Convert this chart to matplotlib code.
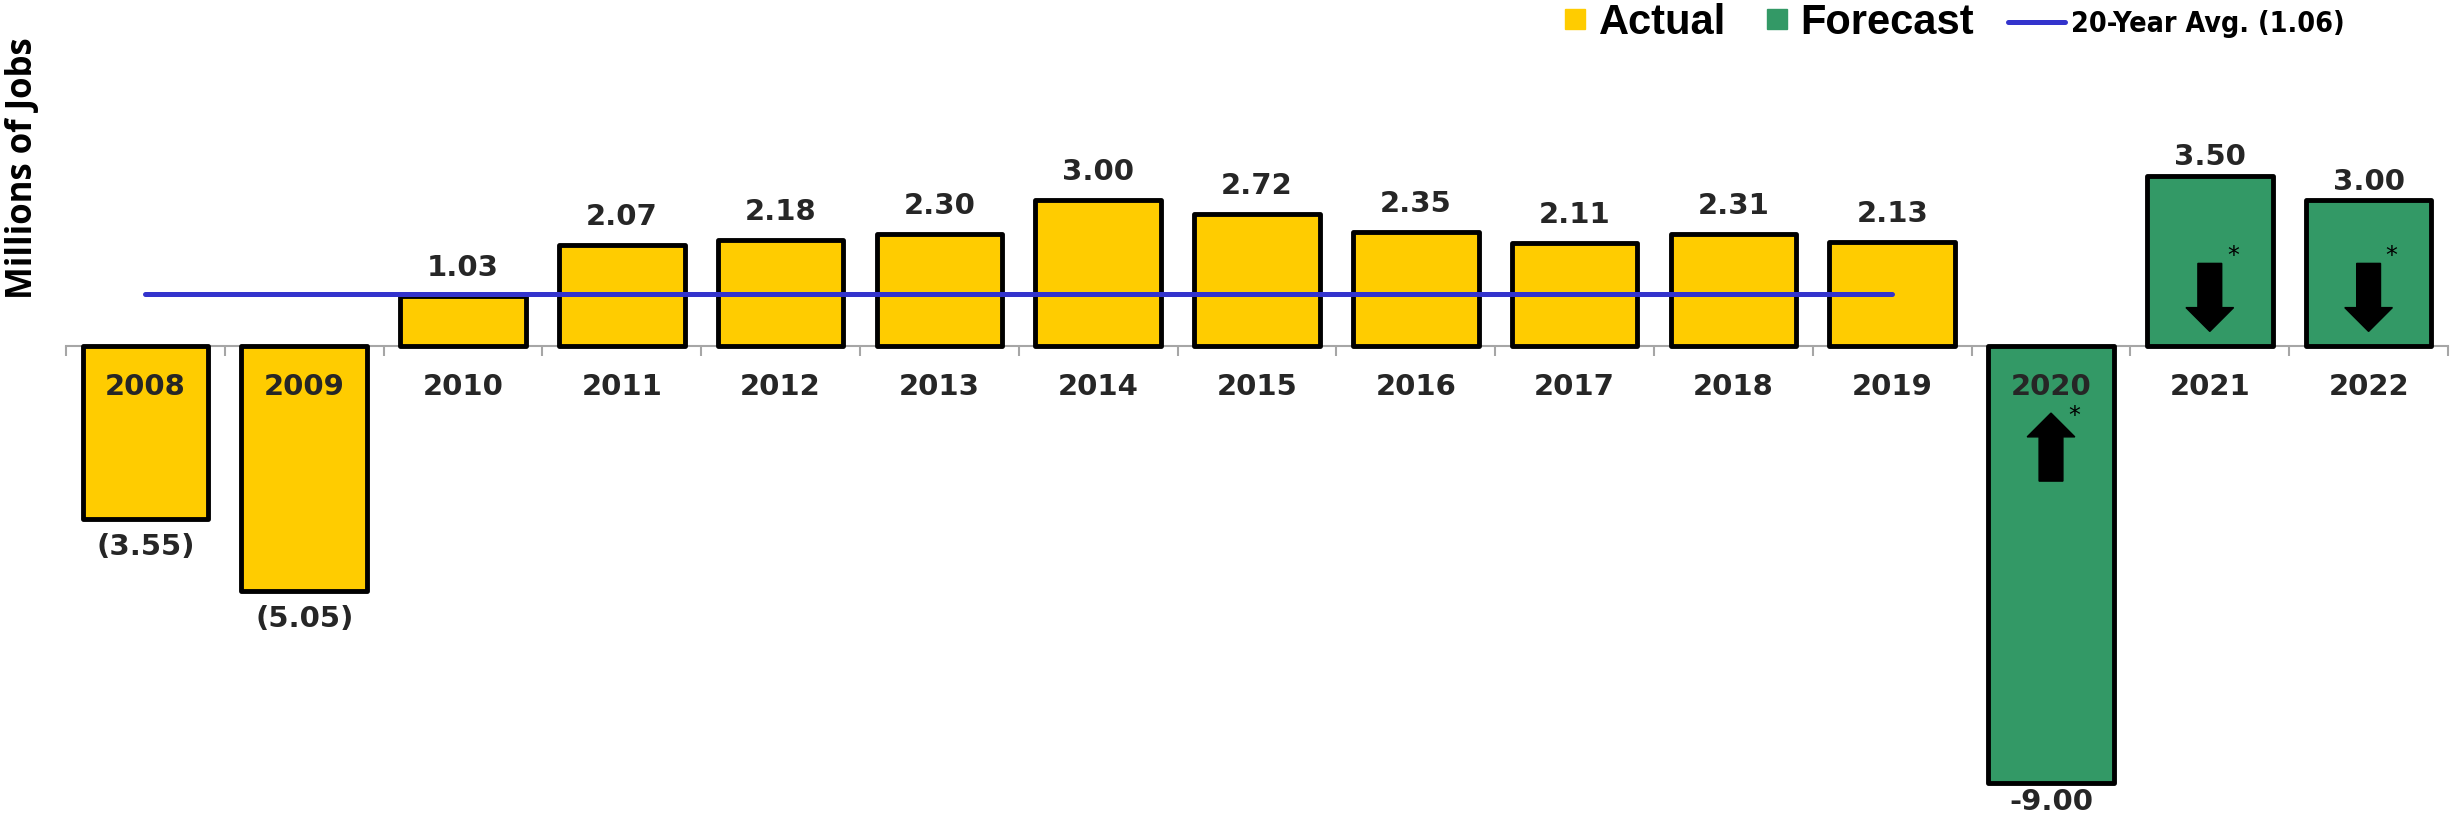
import numpy as np
import matplotlib
matplotlib.use("Agg")
import matplotlib.pyplot as plt
from matplotlib.lines import Line2D
from matplotlib.patches import FancyArrow
from matplotlib.font_manager import FontProperties

# data
years = ["2008", "2009", "2010", "2011", "2012", "2013", "2014", "2015",
         "2016", "2017", "2018", "2019", "2020", "2021", "2022"]
actual_values = [-3.55, -5.05, 1.03, 2.07, 2.18, 2.30, 3.00, 2.72, 2.35, 2.11, 2.31, 2.13]
actual_labels = ["(3.55)", "(5.05)", "1.03", "2.07", "2.18", "2.30", "3.00", "2.72",
                 "2.35", "2.11", "2.31", "2.13"]
forecast_values = [-9.00, 3.50, 3.00]
forecast_labels = ["-9.00", "3.50", "3.00"]
forecast_arrows = ["up", "down", "down"]
avg_value = 1.06
avg_label = "20-Year Avg. (1.06)"
ylabel = "Millions of Jobs"

YELLOW = "#FFCC00"
GREEN = "#339966"
BLUE = "#3333CC"
GRAY_TXT = "#262626"
AXIS_GRAY = "#A6A6A6"

W, H = 2451, 819
fig = plt.figure(figsize=(W / 100, H / 100), dpi=100)
ax = fig.add_axes([0, 0, 1, 1])

# pixel layout: zero line at y=346, 48.6 px per unit; categories 158.8 px wide from x=66
px_unit = 48.6
cat_w = 158.8
ax.set_ylim(-(H - 346) / px_unit, 346 / px_unit)
ax.set_xlim(-0.5 - 66 / cat_w, -0.5 + (W - 66) / cat_w)

x_all = np.arange(len(years))
x_act = x_all[:len(actual_values)]
x_fc = x_all[len(actual_values):]

bars_a = ax.bar(x_act, actual_values, width=0.79, color=YELLOW, edgecolor="black",
                linewidth=3.5, zorder=3)
bars_f = ax.bar(x_fc, forecast_values, width=0.79, color=GREEN, edgecolor="black",
                linewidth=3.5, zorder=3)
for b in list(bars_a) + list(bars_f):
    b.set_joinstyle("round")

# 20-year average line over the actual years
ax.plot([x_act[0], x_act[-1]], [avg_value, avg_value], color=BLUE, lw=3.6,
        solid_capstyle="round", zorder=4)

# axis styling
for s in ["top", "right", "left"]:
    ax.spines[s].set_visible(False)
ax.spines["bottom"].set_position(("data", 0))
ax.spines["bottom"].set_bounds(-0.5, len(years) - 0.5)
ax.spines["bottom"].set_color(AXIS_GRAY)
ax.spines["bottom"].set_linewidth(1.5)
ax.spines["bottom"].set_zorder(2)
ax.set_xticks(np.arange(-0.5, len(years), 1))
ax.set_xticklabels([])
ax.tick_params(axis="x", direction="out", length=7.5, width=1.5, color=AXIS_GRAY)
ax.set_yticks([])
ax.patch.set_visible(False)

lab_font = dict(fontsize=21, fontweight="bold", color=GRAY_TXT, family="DejaVu Sans")

# year labels just under the zero line
for xi, yr in zip(x_all, years):
    ax.text(xi, -41 / px_unit, yr, ha="center", va="center", zorder=6, **lab_font)

# value labels
for xi, v, lab in zip(x_act, actual_values, actual_labels):
    off = 28 / px_unit
    ax.text(xi, v + off if v > 0 else v - off, lab, ha="center", va="center",
            zorder=6, **lab_font)
for xi, v, lab in zip(x_fc, forecast_values, forecast_labels):
    off = 18.5 / px_unit
    ax.text(xi, v + off if v > 0 else v - off, lab, ha="center", va="center",
            zorder=6, **lab_font)

# block arrows with asterisks on the forecast bars
for xi, d in zip(x_fc, forecast_arrows):
    if d == "down":
        y0, dy, ast_y = 1.70, -1.40, 1.85
    else:
        y0, dy, ast_y = -2.78, 1.40, -1.44
    ax.add_patch(FancyArrow(xi, y0, 0, dy, width=0.15, head_width=0.30,
                            head_length=0.49, length_includes_head=True,
                            color="black", zorder=5))
    ax.text(xi + 0.145, ast_y, "*", ha="center", va="center", fontsize=17,
            color="black", zorder=6)

# y axis title
fig.text(23 / W, 1 - 168 / H, ylabel, rotation=90, ha="center", va="center",
         fontsize=25, fontweight="bold", family=["Open Sans", "DejaVu Sans"])

# legends
sq = [Line2D([], [], marker="s", linestyle="none", markersize=15,
             markerfacecolor=c, markeredgecolor=c) for c in (YELLOW, GREEN)]
fig.legend(sq, ["Actual", "Forecast"], loc="center left",
           bbox_to_anchor=(1564 / W, 1 - 23 / H), ncol=2, frameon=False,
           prop=FontProperties(family="Liberation Sans", weight="bold", size=30),
           handlelength=0.55, handletextpad=0.28, columnspacing=0.95,
           borderpad=0, borderaxespad=0)
fig.legend([Line2D([], [], color=BLUE, lw=3.6, solid_capstyle="round")], [avg_label],
           loc="center left", bbox_to_anchor=(2008 / W, 1 - 24 / H), frameon=False,
           prop=FontProperties(family="DejaVu Sans", weight="bold", stretch="condensed", size=20.5),
           handlelength=2.0, handletextpad=0.2, borderpad=0, borderaxespad=0)

fig.savefig("out.png", dpi=100)
